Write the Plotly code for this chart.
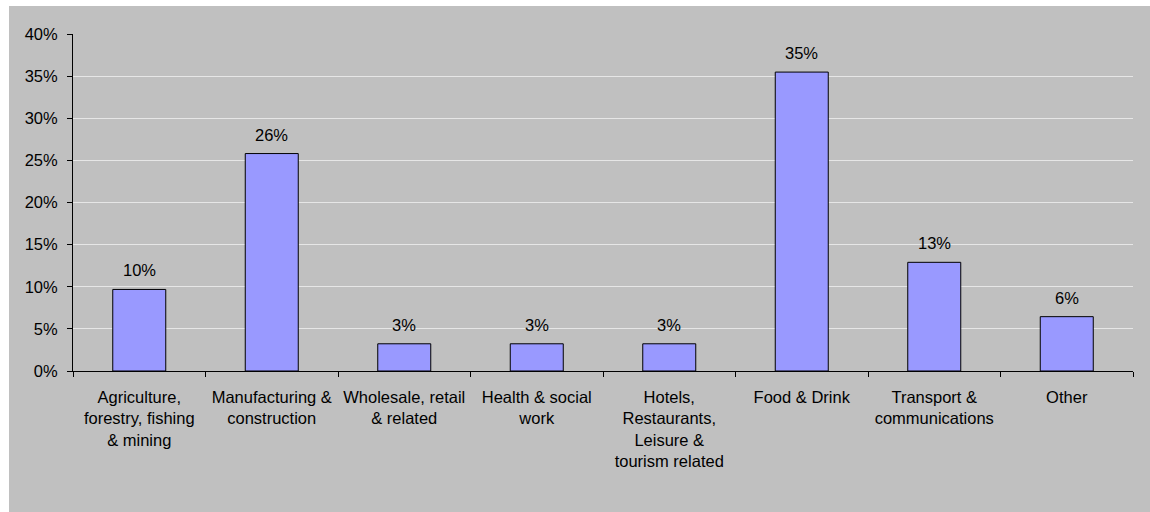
import plotly.graph_objects as go

categories = [
    "Agriculture,<br>forestry, fishing<br>& mining",
    "Manufacturing &<br>construction",
    "Wholesale, retail<br>& related",
    "Health & social<br>work",
    "Hotels,<br>Restaurants,<br>Leisure &<br>tourism related",
    "Food & Drink",
    "Transport &<br>communications",
    "Other",
]
shares = [0.0968, 0.2581, 0.0323, 0.0323, 0.0323, 0.3548, 0.1290, 0.0645]
y_ticks = [0, 0.05, 0.10, 0.15, 0.20, 0.25, 0.30, 0.35, 0.40]

FONT = "Arial, 'Liberation Sans', sans-serif"
FS = 16.5
W, H = 1150, 512
L, R, T, B = 73, 17, 34, 141

fig = go.Figure()
fig.add_trace(go.Bar(
    x=categories, y=shares,
    marker=dict(color="#9999FF", line=dict(color="#000000", width=1)),
    width=0.4,
    hoverinfo="skip",
))

for c, v in zip(categories, shares):
    fig.add_annotation(x=c, y=v, text=f"{round(v*100):.0f}%", showarrow=False,
                       yanchor="bottom", yshift=8,
                       font=dict(family=FONT, size=FS, color="#000000"))

pw = W - L - R
ph = H - T - B
fig.add_shape(type="rect", xref="paper", yref="paper", layer="below",
              x0=(9 - L) / pw, x1=(W - L + 5) / pw,
              y0=-(H + 5 - T - ph) / ph, y1=1 + (T - 6) / ph,
              fillcolor="#C0C0C0", line=dict(width=0))

fig.update_layout(
    width=W, height=H,
    margin=dict(l=L, r=R, t=T, b=B),
    paper_bgcolor="#FFFFFF",
    plot_bgcolor="rgba(0,0,0,0)",
    showlegend=False,
    font=dict(family=FONT, size=FS, color="#000000"),
    bargap=0.6,
)
fig.update_xaxes(
    type="category", tickson="boundaries", ticks="outside", ticklen=5,
    tickcolor="#000000", showline=True, linecolor="#000000", linewidth=1,
    showgrid=False, tickangle=0, tickfont=dict(family=FONT, size=FS, color="#000000"),
    ticklabelstandoff=11,
)
fig.update_yaxes(
    range=[0, 0.4], tickvals=y_ticks, tickformat=".0%", ticks="outside", ticklen=5,
    tickcolor="#000000", showline=True, linecolor="#000000", linewidth=1,
    showgrid=True, gridcolor="#E6E6E6", gridwidth=1.2, zeroline=False,
    tickfont=dict(family=FONT, size=FS, color="#000000"), ticklabelstandoff=6,
)

fig.write_html("out.html", config={"displayModeBar": False},
               post_script="document.body.style.margin='0';document.body.style.overflow='hidden';")
